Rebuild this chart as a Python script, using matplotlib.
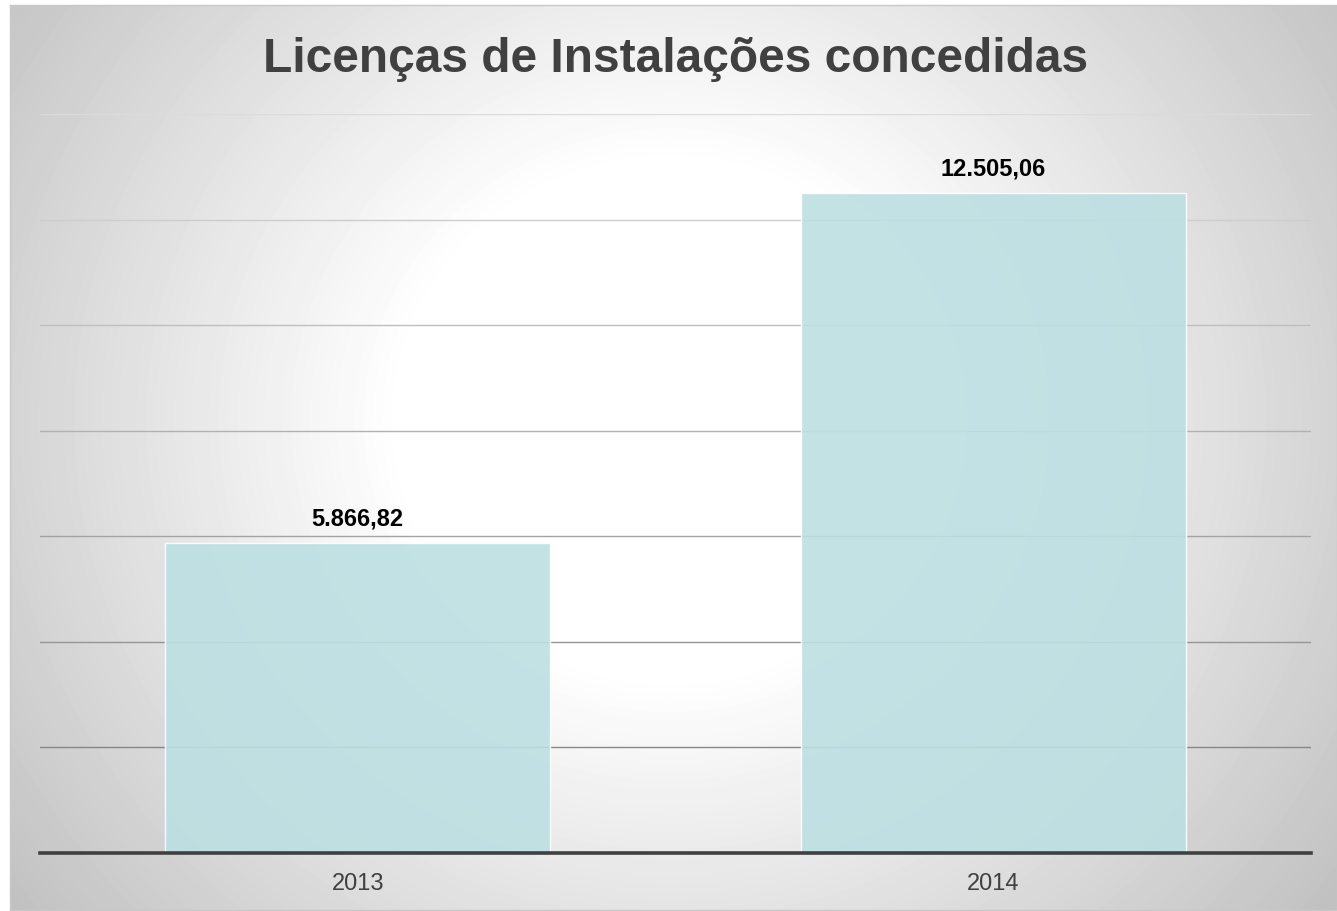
import matplotlib
matplotlib.use('Agg')
import matplotlib.pyplot as plt
import numpy as np

# ─── Data ─────────────────────────────────────────────────────────────────────

years = ['2013', '2014']
licencas = [5866.82, 12505.06]
grid_values = [2000, 4000, 6000, 8000, 10000, 12000, 14000]
title = 'Licenças de Instalações concedidas'

# ─── Style ────────────────────────────────────────────────────────────────────

W, H, DPI = 1337, 911, 100
BAR_COLOR = '#bcdfe2'
TEXT_DARK = '#404040'

plt.rcParams['font.family'] = ['Liberation Sans', 'DejaVu Sans']


def fmt_br(v):
    """12505.06 -> '12.505,06'"""
    s = f'{v:,.2f}'
    return s.replace(',', '#').replace('.', ',').replace('#', '.')


fig = plt.figure(figsize=(W / DPI, H / DPI), dpi=DPI, facecolor='white')

# radial grey -> white background
bg = fig.add_axes([10 / W, 1 / H, (W - 10) / W, (H - 6) / H], zorder=0)
yy, xx = np.mgrid[5:910, 10:W]
r = np.hypot(xx - 670, (yy - 420) * 1.05)
shade = np.clip(255 - 0.11 * np.clip(r - 270, 0, None), 0, 255) / 255
bg.imshow(shade, cmap='gray', vmin=0, vmax=1, aspect='auto',
          interpolation='bilinear')
bg.set_xticks([])
bg.set_yticks([])
for sp in bg.spines.values():
    sp.set_color('#c8c8c8')
    sp.set_linewidth(1)

ax = fig.add_axes([40 / W, (H - 853) / H, 1271 / W, (853 - 114) / H], zorder=1)
ax.patch.set_alpha(0)

# gridlines, lighter toward the top
grid_cols = np.linspace(0.53, 0.86, len(grid_values))
for gv, c in zip(grid_values, grid_cols):
    ax.axhline(gv, color=str(c), linewidth=1.0, zorder=1)

x = np.arange(len(years))
bars = ax.bar(x, licencas, width=0.606, color=BAR_COLOR, alpha=0.9,
              edgecolor='white', linewidth=1.0, zorder=2)

for bar, val in zip(bars, licencas):
    ax.annotate(fmt_br(val), (bar.get_x() + bar.get_width() / 2, bar.get_height()),
                xytext=(0, 9), textcoords='offset points',
                ha='center', va='bottom', fontsize=17, fontweight='bold',
                color='black')

ax.axhline(0, color=TEXT_DARK, linewidth=2.6, zorder=3, clip_on=False)

ax.set_xlim(-0.5, len(years) - 0.5)
ax.set_ylim(0, 14000)
ax.set_xticks(x)
ax.set_xticklabels(years, fontsize=17, color=TEXT_DARK)
ax.tick_params(axis='x', length=0, pad=14.5)
ax.set_yticks([])
for sp in ax.spines.values():
    sp.set_visible(False)

fig.text(0.505, (H - 72) / H, title, ha='center', va='baseline',
         fontsize=34.5, fontweight='bold', color=TEXT_DARK)

fig.savefig('out.png', dpi=DPI)
